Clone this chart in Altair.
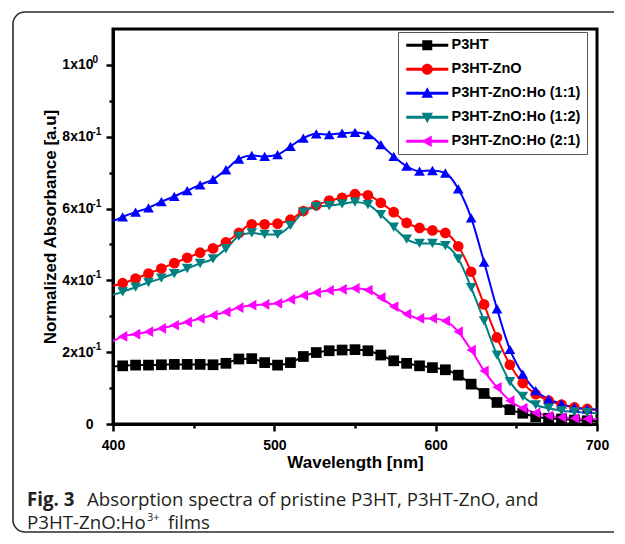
import altair as alt
import pandas as pd

# ---------------- data ----------------
series_names = ["P3HT", "P3HT-ZnO", "P3HT-ZnO:Ho (1:1)", "P3HT-ZnO:Ho (1:2)", "P3HT-ZnO:Ho (2:1)"]
series_colors = ["#000000", "#ff0000", "#0000ff", "#008080", "#ff00ff"]
marker_shapes = ["square", "circle", "triangle-up", "triangle-down", "triangle-left"]

wavelength = [406, 414, 422, 430, 438, 446, 454, 462, 470, 478, 486, 494, 502,
              510, 518, 526, 534, 542, 550, 558, 566, 574, 582, 590, 598, 606,
              614, 622, 630, 638, 646, 654, 662, 670, 678, 686, 694]

p3ht = [0.162, 0.164, 0.164, 0.165, 0.166, 0.166, 0.166, 0.165, 0.169, 0.181, 0.182, 0.171, 0.164,
        0.171, 0.188, 0.199, 0.204, 0.206, 0.207, 0.204, 0.192, 0.176, 0.169, 0.162, 0.157, 0.151,
        0.136, 0.111, 0.085, 0.060, 0.040, 0.030, 0.020, 0.016, 0.014, 0.011, 0.009]
p3ht_zno = [0.392, 0.405, 0.419, 0.433, 0.448, 0.463, 0.477, 0.489, 0.506, 0.532, 0.556, 0.556, 0.558,
            0.569, 0.593, 0.609, 0.622, 0.630, 0.640, 0.637, 0.616, 0.590, 0.560, 0.546, 0.539, 0.532,
            0.495, 0.424, 0.333, 0.241, 0.165, 0.114, 0.083, 0.065, 0.054, 0.046, 0.042]
ho_1_1 = [0.577, 0.590, 0.602, 0.619, 0.634, 0.650, 0.666, 0.681, 0.708, 0.738, 0.748, 0.745, 0.750,
          0.773, 0.796, 0.808, 0.806, 0.810, 0.812, 0.806, 0.778, 0.745, 0.718, 0.704, 0.706, 0.699,
          0.655, 0.574, 0.451, 0.321, 0.208, 0.139, 0.093, 0.069, 0.056, 0.046, 0.042]
ho_1_2 = [0.368, 0.381, 0.394, 0.406, 0.419, 0.433, 0.447, 0.460, 0.488, 0.523, 0.532, 0.528, 0.528,
          0.553, 0.590, 0.605, 0.608, 0.613, 0.618, 0.611, 0.583, 0.548, 0.515, 0.503, 0.503, 0.497,
          0.460, 0.380, 0.287, 0.192, 0.118, 0.077, 0.053, 0.044, 0.037, 0.034, 0.032]
ho_2_1 = [0.244, 0.250, 0.257, 0.266, 0.275, 0.284, 0.294, 0.303, 0.312, 0.324, 0.331, 0.333, 0.336,
          0.347, 0.358, 0.366, 0.372, 0.375, 0.378, 0.373, 0.352, 0.327, 0.306, 0.294, 0.294, 0.287,
          0.257, 0.206, 0.148, 0.102, 0.065, 0.044, 0.031, 0.023, 0.019, 0.016, 0.014]

# curve values at the frame edges (400 nm and 700 nm), lines only
edge_x = [400, 700]
edge_start = [0.160, 0.385, 0.565, 0.360, 0.230]
edge_end = [0.008, 0.040, 0.040, 0.030, 0.013]

x_ticks = [400, 500, 600, 700]
x_minor = [450, 550, 650]
y_ticks = [0, 0.2, 0.4, 0.6, 0.8, 1.0]
y_minor = [0.1, 0.3, 0.5, 0.7, 0.9]
# y tick labels: mantissa part and exponent (superscript) part
y_label_ticks = [0.2, 0.4, 0.6, 0.8, 1.0]
y_label_exponents = ["-1", "-1", "-1", "-1", "0"]

caption_bold = "Fig. 3"
caption_line1 = "Absorption spectra of pristine P3HT, P3HT-ZnO, and"
caption_line2a = "P3HT-ZnO:Ho"
caption_line2sup = "3+"
caption_line2b = "films"

# legend symbols: line segment + marker (custom paths, 1 unit = 5 px, symbol spans -1..7.4)
bar = "M-1,-0.3 H7.4 V0.3 H-1 Z "
legend_paths = [
    bar + "M2.2,-1 H4.2 V1 H2.2 Z",
    bar + "M2.1,0 A1.1,1.1 0 1,1 4.3,0 A1.1,1.1 0 1,1 2.1,0 Z",
    bar + "M3.2,-1.2 L4.35,0.9 L2.05,0.9 Z",
    bar + "M3.2,1.2 L2.05,-0.9 L4.35,-0.9 Z",
    bar + "M2.0,0 L4.1,-1.15 L4.1,1.15 Z",
]

all_vals = [p3ht, p3ht_zno, ho_1_1, ho_1_2, ho_2_1]

pts_rows, line_rows = [], []
for i, (name, vals) in enumerate(zip(series_names, all_vals)):
    for w, v in zip(wavelength, vals):
        pts_rows.append({"wl": w, "ab": v, "series": name})
    line_rows.append({"wl": edge_x[0], "ab": edge_start[i], "series": name})
    for w, v in zip(wavelength, vals):
        line_rows.append({"wl": w, "ab": v, "series": name})
    line_rows.append({"wl": edge_x[1], "ab": edge_end[i], "series": name})

pts = pd.DataFrame(pts_rows)
lines_df = pd.DataFrame(line_rows)
exp_df = pd.DataFrame({"ab": y_label_ticks, "exp": y_label_exponents})
one = pd.DataFrame({"k": [0]})

FONT = "Liberation Sans"
xscale = alt.Scale(domain=[400, 700], nice=False, zero=False)
yscale = alt.Scale(domain=[0, 1.1], nice=False)

W, H = 484, 395

x_main = alt.Axis(values=x_ticks, tickSize=7, tickWidth=2.5, tickColor="black",
                  domainColor="black", domainWidth=3, labelFont=FONT, labelFontWeight="bold",
                  labelFontSize=14, labelColor="black", labelPadding=7, labelFlush=False,
                  title="Wavelength [nm]", titleFont=FONT, titleFontWeight="bold",
                  titleFontSize=17, titleColor="black", titlePadding=2, grid=False, orient="bottom")
y_main = alt.Axis(values=y_ticks, tickSize=7, tickWidth=2.5, tickColor="black",
                  domainColor="black", domainWidth=3, labelFont=FONT, labelFontWeight="bold",
                  labelFontSize=14, labelColor="black", labelPadding=13, labelFlush=False,
                  labelExpr="datum.value < 0.01 ? '0' : (datum.value > 0.99 ? '1x10' : format(datum.value*10, 'd') + 'x10')",
                  title="Normalized Absorbance [a.u]", titleFont=FONT, titleFontWeight="bold",
                  titleFontSize=17, titleColor="black", titlePadding=2, grid=False, orient="left")

lines = alt.Chart(lines_df).mark_line(interpolate="monotone", strokeWidth=2, clip=True).encode(
    x=alt.X("wl:Q", scale=xscale, axis=x_main),
    y=alt.Y("ab:Q", scale=yscale, axis=y_main),
    color=alt.Color("series:N", scale=alt.Scale(domain=series_names, range=series_colors),
                    legend=None, sort=series_names),
)

points = alt.Chart(pts).mark_point(filled=True, size=115, opacity=1).encode(
    x=alt.X("wl:Q", scale=xscale, axis=None),
    y=alt.Y("ab:Q", scale=yscale, axis=None),
    color=alt.Color("series:N", scale=alt.Scale(domain=series_names, range=series_colors),
                    legend=None, sort=series_names),
    shape=alt.Shape("series:N", scale=alt.Scale(domain=series_names, range=marker_shapes), legend=None),
)

leg_params = dict(title=None, orient="none", legendX=285, legendY=3, symbolSize=100,
                  symbolStrokeWidth=0, labelFont=FONT, labelFontWeight="bold", labelFontSize=14.5,
                  labelColor="black", labelOffset=33, strokeColor="#555555", fillColor="white",
                  padding=6, rowPadding=9, labelLimit=300)

legend_layer = alt.Chart(pts).transform_filter("datum.ab < -10").mark_point(filled=True, opacity=1).encode(
    x=alt.X("wl:Q", scale=xscale, axis=None),
    y=alt.Y("ab:Q", scale=yscale, axis=None),
    color=alt.Color("series:N", scale=alt.Scale(domain=series_names, range=series_colors),
                    sort=series_names, legend=alt.Legend(**leg_params)),
    shape=alt.Shape("series:N", scale=alt.Scale(domain=series_names, range=legend_paths),
                    sort=series_names, legend=alt.Legend(**leg_params)),
)

minor = alt.Chart(pts).transform_filter("datum.ab < -10").mark_point(opacity=0).encode(
    x=alt.X("wl:Q", scale=xscale, axis=alt.Axis(values=x_minor, tickSize=4, tickWidth=2.5,
            tickColor="black", labels=False, domain=False, title=None, grid=False, orient="bottom")),
    y=alt.Y("ab:Q", scale=yscale, axis=alt.Axis(values=y_minor, tickSize=4, tickWidth=2.5,
            tickColor="black", labels=False, domain=False, title=None, grid=False, orient="left")),
)

# superscript exponents of the y tick labels
exponents = alt.Chart(exp_df).mark_text(font=FONT, fontWeight="bold", fontSize=10, color="black",
                                        align="left", baseline="middle", dy=-5).encode(
    x=alt.value(-20.5),
    y=alt.Y("ab:Q", scale=yscale, axis=None),
    text="exp:N",
)

box = alt.Chart(one).mark_rect(fill=None, stroke="#2b2b2b", strokeWidth=1.6, cornerRadius=12).encode(
    x=alt.value(-100), x2=alt.value(560), y=alt.value(-17), y2=alt.value(503)
)

cap_style = dict(font="Open Sans", fontSize=18.7, color="#231f20", align="left", baseline="middle")
cap1a = alt.Chart(one).mark_text(fontWeight="bold", **cap_style).encode(
    x=alt.value(-86), y=alt.value(471), text=alt.value(caption_bold))
cap1b = alt.Chart(one).mark_text(**cap_style).encode(
    x=alt.value(-26), y=alt.value(471), text=alt.value(caption_line1))
cap2a = alt.Chart(one).mark_text(**cap_style).encode(
    x=alt.value(-86), y=alt.value(494), text=alt.value(caption_line2a))
cap_sup = dict(cap_style, fontSize=11)
cap2s = alt.Chart(one).mark_text(**cap_sup).encode(
    x=alt.value(34), y=alt.value(488.5), text=alt.value(caption_line2sup))
cap2b = alt.Chart(one).mark_text(**cap_style).encode(
    x=alt.value(55), y=alt.value(494), text=alt.value(caption_line2b))

chart = alt.layer(box, lines, points, legend_layer, minor, exponents,
                  cap1a, cap1b, cap2a, cap2s, cap2b).resolve_scale(
    shape="independent", color="independent"
).resolve_axis(
    x="independent", y="independent"
).properties(
    width=W, height=H,
    autosize=alt.AutoSizeParams(type="none"),
    padding={"left": 105, "top": 21, "right": 17, "bottom": 110},
).configure_view(stroke="black", strokeWidth=3)

chart.save("out.html", embed_options={"renderer": "svg", "actions": False})
